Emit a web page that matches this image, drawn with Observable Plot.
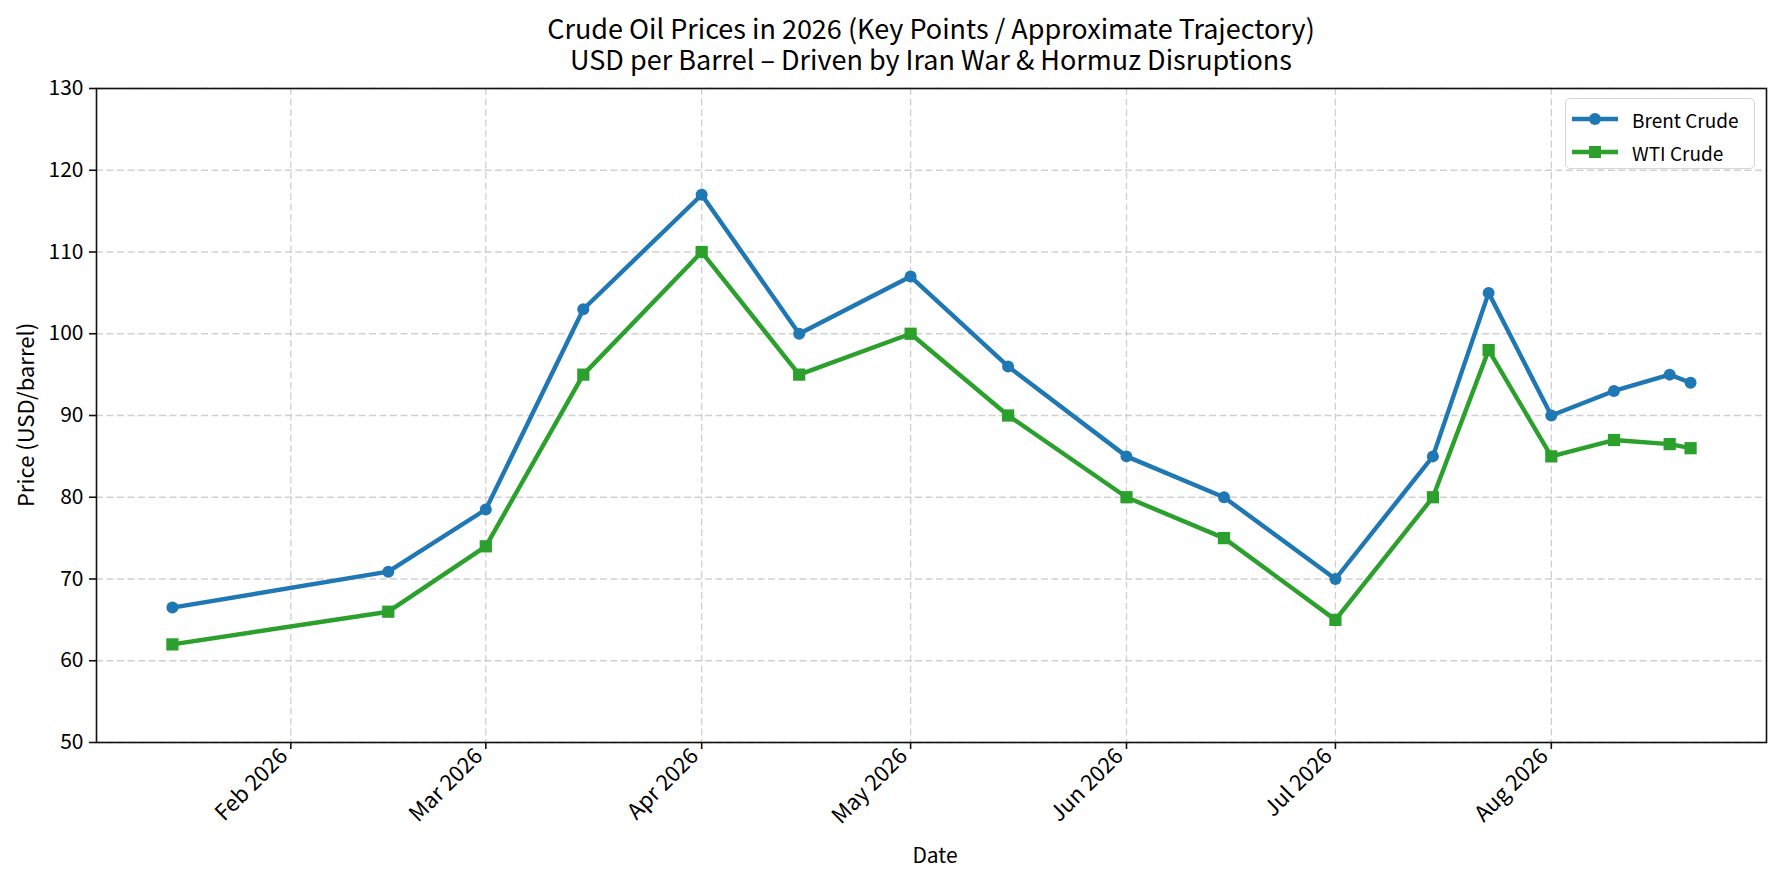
<!DOCTYPE html>
<html>
<head>
<meta charset="utf-8">
<script src="https://cdn.jsdelivr.net/npm/d3@7"></script>
<script src="https://cdn.jsdelivr.net/npm/@observablehq/plot@0.6"></script>
<style>
  html, body { margin: 0; padding: 0; background: #fff; }
  body { font-family: "Noto Sans CJK JP", "Noto Sans", sans-serif; color: #000; }
  #wrap { position: relative; width: 1783px; height: 882px; overflow: hidden; }
  #title { position: absolute; left: 96px; width: 1670px; top: 12px; text-align: center;
           font-size: 27px; line-height: 31px; }
  #chart { position: absolute; left: 0; top: 60px; }
  #ylabel { position: absolute; left: 24px; top: 415px; transform: translate(-50%, -50%) rotate(-90deg);
            white-space: nowrap; font-size: 22px; }
  #xlabel { position: absolute; left: 935px; top: 854px; transform: translate(-50%, -50%);
            font-size: 21px; }
  #legend { position: absolute; left: 1565px; top: 98px; width: 190px; height: 71px;
            border: 1.5px solid #d6d6d6; border-radius: 5px; background: rgba(255,255,255,0.8); box-sizing: border-box; }
  .lrow { position: absolute; left: 0; height: 30px; display: flex; align-items: center; font-size: 19px; white-space: nowrap; }
  .lrow svg { margin-left: 6px; margin-right: 14px; }
</style>
</head>
<body>
<div id="wrap">
  <div id="title"></div>
  <div id="chart"></div>
  <div id="ylabel"></div>
  <div id="xlabel"></div>
  <div id="legend"></div>
</div>
<script>
// ---- data ----
const titleLines = ["Crude Oil Prices in 2026 (Key Points / Approximate Trajectory)",
                    "USD per Barrel – Driven by Iran War & Hormuz Disruptions"];
const xLabel = "Date";
const yLabel = "Price (USD/barrel)";
const seriesNames = ["Brent Crude", "WTI Crude"];
const seriesColors = ["#1f77b4", "#2ca02c"];
const seriesSymbols = ["circle", "square"];

const dates = ["2026-01-15","2026-02-15","2026-03-01","2026-03-15","2026-04-01","2026-04-15",
               "2026-05-01","2026-05-15","2026-06-01","2026-06-15","2026-07-01","2026-07-15",
               "2026-07-23","2026-08-01","2026-08-10","2026-08-18","2026-08-21"];
const brent = [66.5, 70.9, 78.5, 103, 117, 100, 107, 96, 85, 80, 70, 85, 105, 90, 93, 95, 94];
const wti   = [62, 66, 74, 95, 110, 95, 100, 90, 80, 75, 65, 80, 98, 85, 87, 86.5, 86];

const xTicks = ["2026-02-01","2026-03-01","2026-04-01","2026-05-01","2026-06-01","2026-07-01","2026-08-01"];
const yTicks = [50, 60, 70, 80, 90, 100, 110, 120, 130];
const yDomain = [50, 130];

// ---- build ----
const parse = d3.utcParse("%Y-%m-%d");
const rows = (vals, name) => dates.map((d, i) => ({date: parse(d), value: vals[i], series: name}));
const brentRows = rows(brent, seriesNames[0]);
const wtiRows = rows(wti, seriesNames[1]);
const tickDates = xTicks.map(parse);

const ext = d3.extent(dates.map(parse));
const pad = (ext[1] - ext[0]) * 0.05;
const xDomain = [new Date(+ext[0] - pad), new Date(+ext[1] + pad)];

const gridStyle = {stroke: "#c4c4c4", strokeOpacity: 0.8, strokeDasharray: "7,3.5", strokeWidth: 1.3};

const chart = Plot.plot({
  width: 1783,
  height: 822,
  marginTop: 28,
  marginBottom: 140,
  marginLeft: 96,
  marginRight: 17,
  style: {fontFamily: '"Noto Sans CJK JP", "Noto Sans", sans-serif', fontSize: "21px", color: "#000", background: "transparent", overflow: "visible"},
  x: {type: "utc", domain: xDomain},
  y: {domain: yDomain},
  marks: [
    Plot.gridY(yTicks, gridStyle),
    Plot.gridX(tickDates, gridStyle),
    Plot.line(brentRows, {x: "date", y: "value", stroke: seriesColors[0], strokeWidth: 4.4}),
    Plot.dot(brentRows, {x: "date", y: "value", fill: seriesColors[0], symbol: seriesSymbols[0], r: 6}),
    Plot.line(wtiRows, {x: "date", y: "value", stroke: seriesColors[1], strokeWidth: 4.4}),
    Plot.dot(wtiRows, {x: "date", y: "value", fill: seriesColors[1], symbol: seriesSymbols[1], r: 6.9}),
    Plot.frame({stroke: "#111", strokeWidth: 1.6}),
    Plot.axisX({ticks: tickDates, tickSize: 7, tickFormat: () => "", label: null, strokeWidth: 1.6, stroke: "#111"}),
    Plot.axisX({ticks: tickDates, tickFormat: d3.utcFormat("%b %Y"), tickRotate: -45, tickSize: 0,
                tickPadding: 10, label: null, fontSize: 22, dx: -7}),
    Plot.axisY({ticks: yTicks, tickSize: 7, tickPadding: 6, label: null, strokeWidth: 1.6, stroke: "#111"})
  ]
});
document.getElementById("chart").appendChild(chart);

document.getElementById("title").innerHTML = titleLines.map(t => `<div>${t.replace(/&/g, "&amp;")}</div>`).join("");
document.getElementById("ylabel").textContent = yLabel;
document.getElementById("xlabel").textContent = xLabel;

const legend = document.getElementById("legend");
seriesNames.forEach((name, i) => {
  const row = document.createElement("div");
  row.className = "lrow";
  row.style.top = (i === 0 ? 5 : 38) + "px";
  const marker = seriesSymbols[i] === "circle"
    ? `<circle cx="23" cy="10" r="6" fill="${seriesColors[i]}"/>`
    : `<rect x="17" y="4" width="12" height="12" fill="${seriesColors[i]}"/>`;
  row.innerHTML = `<svg width="46" height="20"><line x1="0" y1="10" x2="46" y2="10" stroke="${seriesColors[i]}" stroke-width="4.4"/>${marker}</svg><span>${name}</span>`;
  legend.appendChild(row);
});
</script>
</body>
</html>
